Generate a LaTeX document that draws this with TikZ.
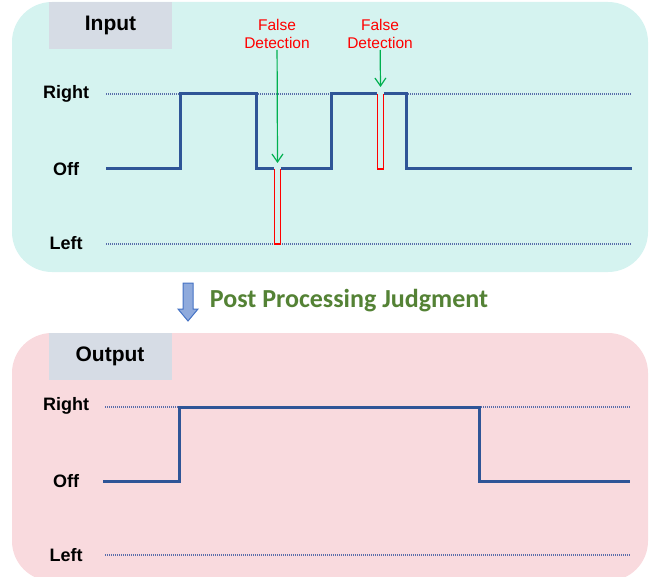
\documentclass[tikz,border=0pt]{standalone}
\usepackage{fontspec}
\setmainfont{Liberation Sans}
\newfontfamily\judgefont{Carlito}
\usetikzlibrary{arrows.meta}

\definecolor{inbg}{RGB}{213,243,240}
\definecolor{outbg}{RGB}{249,218,222}
\definecolor{tagbg}{RGB}{214,220,229}
\definecolor{sigblue}{RGB}{47,85,151}
\definecolor{guideblue}{RGB}{90,110,170}
\definecolor{falsered}{RGB}{255,0,0}
\definecolor{arrgreen}{RGB}{0,176,80}
\definecolor{judgegreen}{RGB}{84,130,53}
\definecolor{blockblue}{RGB}{143,170,220}
\definecolor{blockedge}{RGB}{68,114,196}

\begin{document}
\begin{tikzpicture}[x=1pt, y=-1pt,
        panel/.style={rounded corners=40pt},
        tag/.style={fill=tagbg, minimum width=123pt, minimum height=47pt, inner sep=0pt, font=\fontsize{21}{25}\selectfont\bfseries},
        level/.style={font=\fontsize{18}{22}\selectfont\bfseries},
        guide/.style={guideblue, line width=1.2pt, dash pattern=on 1pt off 1pt},
        signal/.style={sigblue, line width=3pt, line join=miter},
        glitch/.style={falsered, line width=1.5pt},
        note/.style={text=falsered, align=center, inner sep=1pt, font=\fontsize{15.5}{18}\selectfont},
        pointer/.style={-{Straight Barb[length=8pt,width=11pt]}, arrgreen, line width=1.2pt},
        blockarrow/.style={fill=blockblue, draw=blockedge, line width=1pt, line join=miter}
    ]
    \useasboundingbox (0,0) rectangle (655,577);

    % input panel
    \fill[panel, inbg] (12,2) rectangle (648,272);
    \node[tag] (intag) at (110.5,25.5) {Input};
    \node[level] (inR) at (66,94) {Right};
    \node[level] (inO) at (66,169) {Off};
    \node[level] (inL) at (66,243) {Left};
    \draw[guide] (106,94) -- (631,94);
    \draw[guide] (106,244) -- (631,244);
    \draw[signal] (106,169) -- (180,169) -- (180,94) -- (256,94) -- (256,169)
        -- (331,169) -- (331,94) -- (406,94) -- (406,169) -- (632,169);

    % false detections
    \fill[inbg] (274,166) rectangle (281,172);
    \draw[glitch] (274.5,169) -- (274.5,244) -- (280.5,244) -- (280.5,169);
    \fill[inbg] (377,91) rectangle (384,97);
    \draw[glitch] (377.5,94) -- (377.5,169) -- (383.5,169) -- (383.5,94);
    \node[note] (fd1) at (277,34) {False\\Detection};
    \node[note] (fd2) at (380,34) {False\\Detection};
    \coordinate (hit1) at (277.5,163);
    \coordinate (hit2) at (380.5,87);
    \draw[pointer] (fd1) -- (hit1);
    \draw[pointer] (fd2) -- (hit2);

    % judgment
    \draw[blockarrow] (183,283) -- (193,283) -- (193,309) -- (198,309) -- (188,321)
        -- (178,309) -- (183,309) -- cycle;
    \node[text=judgegreen, font=\judgefont\fontsize{26}{31}\selectfont\bfseries] (judge) at (349,301) {Post Processing Judgment};

    % output panel
    \fill[panel, outbg] (12,333) rectangle (648,581);
    \node[tag] (outtag) at (110,356.5) {Output};
    \node[level] (outR) at (66,406) {Right};
    \node[level] (outO) at (66,481) {Off};
    \node[level] (outL) at (66,555) {Left};
    \draw[guide] (105,407) -- (630,407);
    \draw[guide] (105,555) -- (630,555);
    \draw[signal] (103,481) -- (179,481) -- (179,407) -- (479,407) -- (479,481) -- (630,481);
\end{tikzpicture}
\end{document}
